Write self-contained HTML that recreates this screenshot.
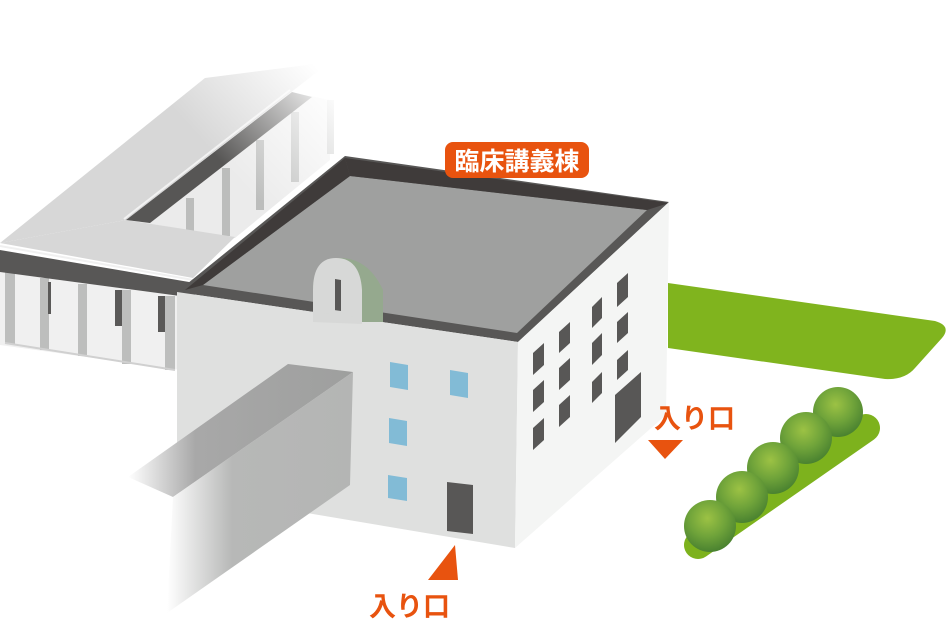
<!DOCTYPE html>
<html><head><meta charset="utf-8"><style>
html,body{margin:0;padding:0;background:#fff;}
svg{display:block;}
text{font-family:"Liberation Sans","Noto Sans CJK JP",sans-serif;font-weight:bold;}
</style></head><body>
<svg width="950" height="637" viewBox="0 0 950 637" xmlns="http://www.w3.org/2000/svg">
<defs>
<linearGradient id="fadeTR" gradientUnits="userSpaceOnUse" x1="210" y1="150" x2="310" y2="60">
<stop offset="0" stop-color="#fff" stop-opacity="0"/>
<stop offset="1" stop-color="#fff" stop-opacity="1"/>
</linearGradient>
<linearGradient id="corTop" x1="0" y1="0" x2="1" y2="0">
<stop offset="0" stop-color="#fff"/>
<stop offset="0.3" stop-color="#a8a8a8"/>
<stop offset="1" stop-color="#9e9f9e"/>
</linearGradient>
<linearGradient id="corFront" x1="0" y1="0" x2="1" y2="0">
<stop offset="0" stop-color="#fff"/>
<stop offset="0.35" stop-color="#b7b8b7"/>
<stop offset="1" stop-color="#b4b5b4"/>
</linearGradient>
<radialGradient id="bush" cx="0.45" cy="0.35" r="0.65">
<stop offset="0" stop-color="#9cc244"/>
<stop offset="0.55" stop-color="#6fa33a"/>
<stop offset="1" stop-color="#4a8230"/>
</radialGradient>
</defs>

<!-- left wing ground floor -->
<polygon points="0,272 195,298 195,372 0,345" fill="#f0f0f0"/>
<g fill="#bdbebd">
<rect x="5" y="272" width="10" height="72"/>
<rect x="40" y="278" width="9" height="72"/>
<rect x="78" y="284" width="9" height="72"/>
<rect x="122" y="290" width="9" height="74"/>
<rect x="165" y="296" width="10" height="74"/>
</g>
<g fill="#5a5958">
<rect x="48" y="282" width="3" height="32"/>
<rect x="115" y="290" width="7" height="36"/>
<rect x="158" y="296" width="7" height="36"/>
</g>
<line x1="5" y1="343" x2="175" y2="370" stroke="#d0d0d0" stroke-width="2"/>

<!-- upper columns area -->
<polygon points="140,222 305,95 330,100 330,160 235,238" fill="#ebebeb"/>
<g fill="#bcbdbc">
<rect x="186" y="198" width="8" height="34"/>
<rect x="222" y="168" width="8" height="68"/>
<rect x="256" y="140" width="8" height="70"/>
<rect x="291" y="112" width="8" height="70"/>
<rect x="327" y="100" width="7" height="54"/>
</g>
<!-- slab -->
<polygon points="0,243 126,220 330,62 205,78" fill="#d7d7d7"/>
<polygon points="0,243 193,278 235,237 126,220" fill="#d7d7d7"/>
<polygon points="126,220 150,223 312,97 292,92" fill="#575655"/>
<line x1="124" y1="219" x2="290" y2="90" stroke="#f2f2f2" stroke-width="2"/>
<polygon points="0,250 195,283 195,298 0,272" fill="#585756"/>
<line x1="0" y1="246" x2="193" y2="280" stroke="#f0f0f0" stroke-width="2"/>
<polygon points="150,0 400,0 400,200 150,200" fill="url(#fadeTR)"/>

<!-- lawn -->
<path d="M668,283 L935,321 Q952,326 942,338 L915,368 Q905,380 885,379 L668,348 Z" fill="#80b41e"/>

<!-- main building -->
<polygon points="177,292 345,156 669,202 518,342" fill="#585756"/>
<polygon points="350,176 647,210 517,333 203,285" fill="#9fa09f"/>
<polygon points="345,158 669,203 647,210 350,176" fill="#3f3b3a"/>
<polygon points="345,158 350,176 203,285 185,290" fill="#3f3b3a"/>
<polygon points="177,292 518,342 515,548 307,513 177,492" fill="#dfe0df"/>
<polygon points="518,342 669,202 666,415 515,548" fill="#f4f5f4"/>
<!-- dome -->
<path d="M313,322 L313,290 Q313,258 340,258 Q368,258 383,290 L383,322 Z" fill="#95a98e"/>
<path d="M313,322 L313,290 Q313,258 336,258 Q360,258 362,290 L362,324 Z" fill="#d7d8d7"/>
<polygon points="335,279 341,280 341,312 335,311" fill="#585756"/>
<polygon points="313,307 362,314 362,318 313,312" fill="#d7d8d7"/>
<!-- front windows -->
<g fill="#82bbd6">
<polygon points="390,362 408,365 408,390 390,387"/>
<polygon points="450,370 468,373 468,398 450,395"/>
<polygon points="389,418 407,421 407,446 389,443"/>
<polygon points="388,475 407,478 407,501 388,498"/>
</g>
<polygon points="447,482 473,485 473,534 447,531" fill="#585756"/>
<!-- right windows -->
<g fill="#585756">
<polygon points="533,353 544,343 544,365 533,375"/>
<polygon points="533,390 544,380 544,402 533,412"/>
<polygon points="533,428 544,418 544,440 533,450"/>
<polygon points="559,332 570,322 570,343 559,353"/>
<polygon points="559,368 570,358 570,380 559,390"/>
<polygon points="559,405 570,395 570,417 559,427"/>
<polygon points="592,307 602,297 602,318 592,328"/>
<polygon points="592,343 602,333 602,355 592,365"/>
<polygon points="592,382 602,372 602,393 592,403"/>
<polygon points="617,283 628,273 628,297 617,307"/>
<polygon points="617,322 628,312 628,333 617,343"/>
<polygon points="617,360 628,350 628,370 617,380"/>
<polygon points="615,395 641,372 641,417 615,443"/>
</g>

<!-- corridor -->
<polygon points="288,364 353,372 173,497 128,477" fill="url(#corTop)"/>
<polygon points="353,372 350,485 167,613 173,497" fill="url(#corFront)"/>

<!-- hedge -->
<line x1="698" y1="545" x2="866" y2="428" stroke="#7db21d" stroke-width="28" stroke-linecap="round"/>
<g fill="url(#bush)">
<circle cx="838" cy="412" r="25"/>
<circle cx="806" cy="438" r="26"/>
<circle cx="773" cy="468" r="26"/>
<circle cx="742" cy="497" r="26"/>
<circle cx="710" cy="526" r="26"/>
</g>

<!-- labels -->
<rect x="445" y="142" width="144" height="36" rx="8" fill="#e8530f"/>
<text x="517" y="170" font-size="25" fill="#fff" text-anchor="middle">臨床講義棟</text>
<text x="654" y="428" font-size="27" fill="#e8530f">入り口</text>
<polygon points="648,440 683,440 665,459" fill="#e8530f"/>
<polygon points="428,580 458,580 455,545" fill="#e8530f"/>
<text x="369" y="616" font-size="27" fill="#e8530f">入り口</text>
</svg>
</body></html>
